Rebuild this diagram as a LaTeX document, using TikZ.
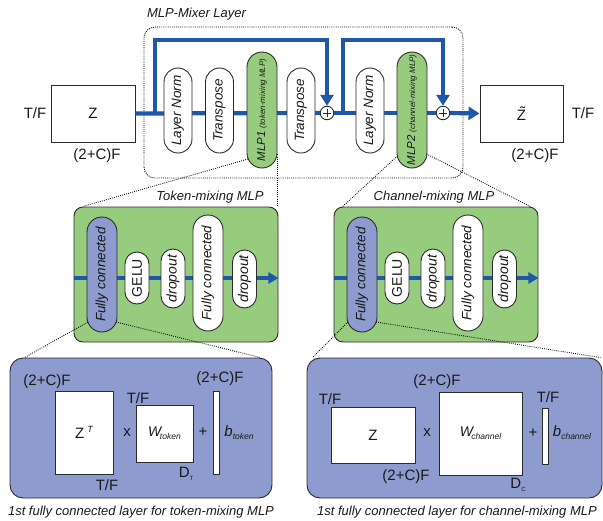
\documentclass[tikz,border=0pt]{standalone}
\usepackage{fontspec}
\setmainfont{Liberation Sans}
\usetikzlibrary{arrows.meta,calc}

\definecolor{flowblue}{HTML}{2157A8}
\definecolor{mixgreen}{HTML}{97CC7F}
\definecolor{fcviolet}{HTML}{8E9BCE}
\definecolor{edge}{HTML}{2B2B2B}

\newcommand\fs[1]{\fontsize{#1}{#1}\selectfont}

\begin{document}
\begin{tikzpicture}[x=1pt,y=-1pt,
  every node/.style={text=black!90, inner sep=0pt},
  flow/.style={draw=flowblue, line width=4.2pt},
  tip/.style={-{Triangle[length=11pt,width=13pt]}},
  smalltip/.style={-{Triangle[length=10pt,width=11pt]}},
  box/.style={draw=edge, line width=0.9pt, fill=white},
  pill/.style n args={3}{draw=edge, line width=0.9pt, fill=white,
    minimum width=#1pt, minimum height=#2pt, rounded corners=#3pt,
    font=\fs{13.5}\itshape},
  dots/.style={draw=black, line width=0.85pt, dash pattern=on 0.85pt off 1.25pt},
  lbl/.style={font=\fs{15}},
  heading/.style={font=\fs{13}\itshape},
  container/.style={draw=edge, line width=0.9pt},
  plus/.style={circle, draw=edge, line width=0.9pt, fill=white, minimum size=13.5pt,
    path picture={\draw[line width=0.7pt]
      ([xshift=-4pt]path picture bounding box.center) -- ([xshift=4pt]path picture bounding box.center)
      ([yshift=-4pt]path picture bounding box.center) -- ([yshift=4pt]path picture bounding box.center);}},
]
\useasboundingbox (0,0) rectangle (603,520);

% ---------- MLP-Mixer layer ----------
\node[heading] (title) at (196.5,14) {MLP-Mixer Layer};
\node[draw=black, line width=0.9pt, dash pattern=on 0.9pt off 1.2pt, rounded corners=11pt,
      minimum width=319pt, minimum height=151pt] (mixer) at (303.5,102.5) {};

\node[box, minimum width=84pt, minimum height=57pt, font=\fs{15}] (z) at (93,113.5) {Z};
\node[box, minimum width=83pt, minimum height=57pt, font=\fs{15}] (zt) at (521.5,113.5) {\~{Z}};
\node[plus] (p1) at (327,113) {};
\node[plus] (p2) at (443,113) {};

% ---------- containers ----------
\node[container, fill=mixgreen, rounded corners=9pt, minimum width=204pt, minimum height=135pt] (tok) at (176,274.5) {};
\node[container, fill=mixgreen, rounded corners=9pt, minimum width=204pt, minimum height=135pt] (chn) at (436,274.5) {};
\node[container, fill=fcviolet, rounded corners=13pt, minimum width=262pt, minimum height=140pt] (fct) at (141,428) {};
\node[container, fill=fcviolet, rounded corners=13pt, minimum width=295pt, minimum height=140pt] (fcc) at (454.5,428) {};

% ---------- data flow ----------
\coordinate (s1) at (155,113);
\coordinate (s2) at (343,113);
\draw[flow] (z.east) -- (p1.west);
\draw[flow] (p1.east) -- (p2.west);
\draw[flow,tip] (p2.east) -- (zt.west);
\draw[flow,tip] (s1) -- ++(0,-73) -| (p1.north);
\draw[flow,tip] (s2) -- ++(0,-73) -| (p2.north);
\draw[flow,smalltip] ([yshift=-3.5pt]tok.west) -- ([yshift=-3.5pt]tok.east);
\draw[flow,smalltip] ([yshift=-3.5pt]chn.west) -- ([yshift=-3.5pt]chn.east);

% ---------- blocks of the mixer layer ----------
\node[pill={28}{85}{14}] (ln1) at (178,110.5) {\rotatebox{90}{Layer Norm}};
\node[pill={28}{85}{14}] (tr1) at (219.5,110.5) {\rotatebox{90}{Transpose}};
\node[pill={30}{116}{15}, fill=mixgreen, font=\fs{11.5}\itshape] (mlp1) at (262,110)
  {\rotatebox{90}{MLP1 {\fs{8}(token-mixing MLP)}}};
\node[pill={28}{85}{14}] (tr2) at (301,110.5) {\rotatebox{90}{Transpose}};
\node[pill={28}{85}{14}] (ln2) at (370,110.5) {\rotatebox{90}{Layer Norm}};
\node[pill={30}{116}{15}, fill=mixgreen, font=\fs{11.5}\itshape] (mlp2) at (412,110)
  {\rotatebox{90}{MLP2 {\fs{8}(channel-mixing MLP)}}};

% ---------- token-mixing MLP ----------
\node[heading] at (210,197) {Token-mixing MLP};
\node[pill={30}{115}{15}, fill=fcviolet] (tfc1) at (102,274.5) {\rotatebox{90}{Fully connected}};
\node[pill={24}{52}{12}, font=\fs{14}] (tgelu) at (137,278) {\rotatebox{90}{GELU}};
\node[pill={24}{59}{12}, font=\fs{14}\itshape] (tdr1) at (173,278.5) {\rotatebox{90}{dropout}};
\node[pill={30}{116}{15}] (tfc2) at (208,273) {\rotatebox{90}{Fully connected}};
\node[pill={24}{58}{12}, font=\fs{14}\itshape] (tdr2) at (244.5,279) {\rotatebox{90}{dropout}};

% ---------- channel-mixing MLP ----------
\node[heading] at (434,197) {Channel-mixing MLP};
\node[pill={30}{115}{15}, fill=fcviolet] (cfc1) at (362,274.5) {\rotatebox{90}{Fully connected}};
\node[pill={24}{52}{12}, font=\fs{14}] (cgelu) at (397,278) {\rotatebox{90}{GELU}};
\node[pill={24}{59}{12}, font=\fs{14}\itshape] (cdr1) at (433,278.5) {\rotatebox{90}{dropout}};
\node[pill={30}{116}{15}] (cfc2) at (468,273) {\rotatebox{90}{Fully connected}};
\node[pill={24}{58}{12}, font=\fs{14}\itshape] (cdr2) at (504.5,279) {\rotatebox{90}{dropout}};

% ---------- zoom guides ----------
\draw[dots] ($(mlp1.center)+(-14,49)$) -- ($(tok.north west)+(9,0)$);
\coordinate (m1r) at ($(mlp1.south east)+(0,-14)$);
\draw[dots] (m1r) -- (m1r |- tok.north);
\draw[dots] ($(mlp2.center)+(-14.5,46)$) -- ($(chn.north west)+(9,0)$);
\draw[dots] ($(mlp2.center)+(14.5,44)$) -- ($(chn.north east)+(-8,0)$);
\draw[dots] ($(tfc1.center)+(-14,47.5)$) -- ($(fct.north west)+(15,0)$);
\draw[dots] ($(tfc1.center)+(14,47.5)$) -- ($(fct.north east)+(-12,0)$);
\draw[dots] ($(cfc1.center)+(-14,47.5)$) -- ($(fcc.north west)+(6,0)$);
\draw[dots] ($(cfc1.center)+(14,47.5)$) -- ($(fcc.north east)+(-2,0)$);

% ---------- shape labels of the layer ----------
\node[lbl] at (35,113) {T/F};
\node[lbl] at (97,156) {(2+C)F};
\node[lbl] at (583,113) {T/F};
\node[lbl] at (535,156) {(2+C)F};

% ---------- first fully connected layer, token mixing ----------
\node[box, minimum width=58pt, minimum height=83pt, font=\fs{15}] (zT) at (84,432.5)
  {Z\hspace{3pt}\raisebox{6pt}{\fs{9}\itshape T}};
\node[lbl] (xt) at (127,433) {x};
\node[box, minimum width=57pt, minimum height=57pt, font=\fs{14}\itshape] (wt) at (164.5,433.5)
  {W\kern-1.5pt\raisebox{-3pt}{\fs{8.5}token}};
\node[lbl] (pt) at (203,432) {+};
\node[box, minimum width=6pt, minimum height=83pt] (bt) at (216,432.5) {};
\node[lbl, font=\fs{15}\itshape] at (239,433) {b\raisebox{-3pt}{\fs{8.5}token}};
\node[lbl] at (47,382) {(2+C)F};
\node[lbl] at (220,379) {(2+C)F};
\node[lbl] at (138,398) {T/F};
\node[lbl] at (107,485) {T/F};
\node[lbl] at (186,474) {D\raisebox{-3pt}{\fs{6}T}};
\node[heading] at (141,512) {1st fully connected layer for token-mixing MLP};

% ---------- first fully connected layer, channel mixing ----------
\node[box, minimum width=84pt, minimum height=56pt, font=\fs{15}] (zc) at (373,435) {Z};
\node[lbl] (xc) at (427,433) {x};
\node[box, minimum width=83pt, minimum height=83pt, font=\fs{14}\itshape] (wc) at (480.5,433.5)
  {W\kern-1.5pt\raisebox{-3pt}{\fs{8.5}channel}};
\node[lbl] (pc) at (533,433) {+};
\node[box, minimum width=6pt, minimum height=56pt] (bc) at (545,436) {};
\node[lbl, font=\fs{15}\itshape] at (572,433) {b\raisebox{-3pt}{\fs{8.5}channel}};
\node[lbl] at (330,399) {T/F};
\node[lbl] at (406,477) {(2+C)F};
\node[lbl] at (437,382) {(2+C)F};
\node[lbl] at (548,397) {T/F};
\node[lbl] at (518,485) {D\raisebox{-3pt}{\fs{6}C}};
\node[heading] at (457,512) {1st fully connected layer for channel-mixing MLP};
\end{tikzpicture}
\end{document}
